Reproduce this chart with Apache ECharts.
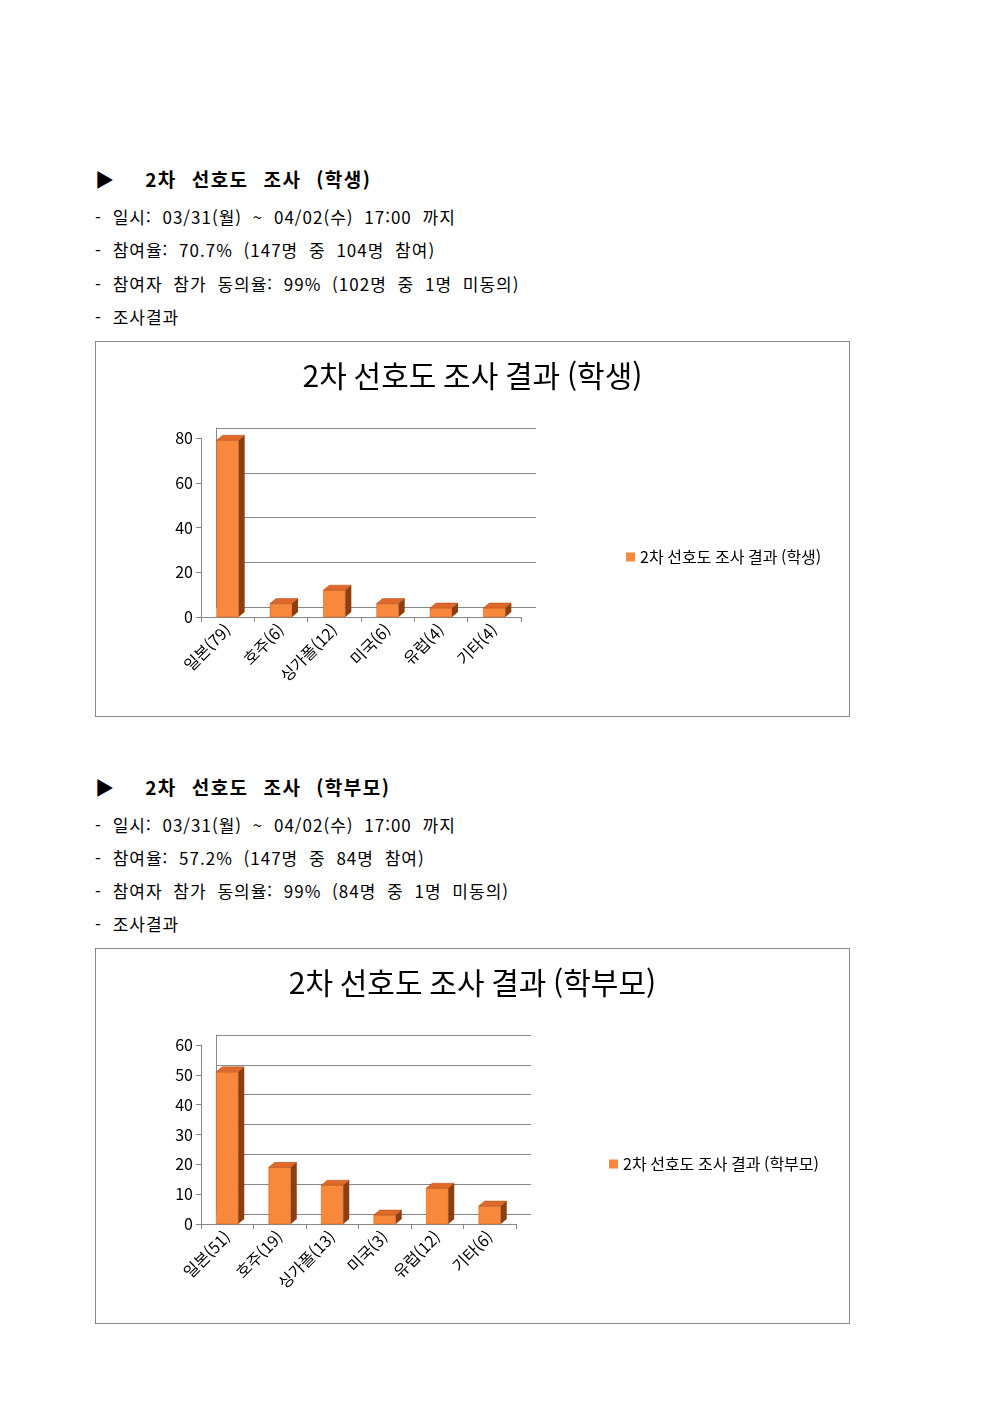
<!DOCTYPE html>
<html lang="ko">
<head>
<meta charset="UTF-8" />
<title>2차 선호도 조사</title>
<style>
  html, body { margin: 0; background: #fff; }
  body { width: 992px; height: 1403px; position: relative; font-family: "Noto Sans CJK KR", sans-serif; color: #000; }
  .line { position: absolute; left: 95px; font-size: 17px; line-height: 20px; white-space: pre; letter-spacing: 1px; word-spacing: 5px; }
  .head { font-weight: bold; font-size: 19px; letter-spacing: 1.5px; word-spacing: 8px; }
  .box { position: absolute; left: 95px; width: 755px; height: 376px; border: 1px solid #888; box-sizing: border-box; }
</style>
</head>
<body>
<div class="line head" style="top:169px">▶  2차 선호도 조사 (학생)</div>
<div class="line" style="top:207px">- 일시: 03/31(월) ~ 04/02(수) 17:00 까지</div>
<div class="line" style="top:240px">- 참여율: 70.7% (147명 중 104명 참여)</div>
<div class="line" style="top:274px">- 참여자 참가 동의율: 99% (102명 중 1명 미동의)</div>
<div class="line" style="top:307px">- 조사결과</div>
<div class="box" id="c1" style="top:341px"></div>

<div class="line head" style="top:777px">▶  2차 선호도 조사 (학부모)</div>
<div class="line" style="top:815px">- 일시: 03/31(월) ~ 04/02(수) 17:00 까지</div>
<div class="line" style="top:848px">- 참여율: 57.2% (147명 중 84명 참여)</div>
<div class="line" style="top:881px">- 참여자 참가 동의율: 99% (84명 중 1명 미동의)</div>
<div class="line" style="top:914px">- 조사결과</div>
<div class="box" id="c2" style="top:948px"></div>

<script src="https://cdn.jsdelivr.net/npm/echarts@6/dist/echarts.min.js"></script>
<script>
var studentCats = ['일본(79)', '호주(6)', '싱가폴(12)', '미국(6)', '유럽(4)', '기타(4)'];
var studentVals = [79, 6, 12, 6, 4, 4];
var parentCats = ['일본(51)', '호주(19)', '싱가폴(13)', '미국(3)', '유럽(12)', '기타(6)'];
var parentVals = [51, 19, 13, 3, 12, 6];

var DX = 15, DY = -10;   // depth of the back wall
var BW = 22, BD = 6, BH = -5; // bar width, bar depth

function render3d(params, api) {
  var top = api.coord([api.value(0), api.value(1)]);
  var base = api.coord([api.value(0), 0]);
  var x0 = top[0] - BW / 2, x1 = top[0] + BW / 2;
  return {
    type: 'group',
    children: [
      { type: 'rect', shape: { x: x0, y: top[1], width: BW, height: base[1] - top[1] },
        style: { fill: '#F7883C', stroke: '#C8601E', lineWidth: 0.5 } },
      { type: 'polygon', shape: { points: [[x0, top[1]], [x1, top[1]], [x1 + BD, top[1] + BH], [x0 + BD, top[1] + BH]] },
        style: { fill: '#E0692A', stroke: '#A84A14', lineWidth: 0.5 } },
      { type: 'polygon', shape: { points: [[x1, top[1]], [x1 + BD, top[1] + BH], [x1 + BD, base[1] + BH], [x1, base[1]]] },
        style: { fill: '#8E3F12' } }
    ]
  };
}

function makeChart(id, title, cats, vals, max, interval, gridW, legendLeft) {
  var chart = echarts.init(document.getElementById(id));
  var textFont = '"Noto Sans CJK KR", sans-serif';
  chart.setOption({
    animation: false,
    title: { text: title, left: 'center', top: 14,
      textStyle: { fontFamily: textFont, fontSize: 30, fontWeight: 'normal', color: '#000' } },
    legend: { data: [title], left: legendLeft, top: 202, icon: 'rect', itemWidth: 9, itemHeight: 9, itemGap: 4,
      textStyle: { fontFamily: textFont, fontSize: 16, color: '#000' } },
    grid: [
      { left: 105, top: 96, width: gridW, height: 179 },
      { left: 105 + DX, top: 96 + DY, width: gridW, height: 179 }
    ],
    xAxis: [
      { type: 'category', data: cats, gridIndex: 0,
        axisLine: { lineStyle: { color: '#888' } }, axisTick: { show: true, lineStyle: { color: '#888' } },
        axisLabel: { rotate: 45, fontFamily: textFont, fontSize: 16, color: '#000', margin: 10 } },
      { type: 'category', data: cats, gridIndex: 1, show: true,
        axisLine: { show: false }, axisTick: { show: false }, axisLabel: { show: false } }
    ],
    yAxis: [
      { type: 'value', min: 0, max: max, interval: interval, gridIndex: 0,
        axisLine: { show: true, lineStyle: { color: '#888' } }, axisTick: { show: true, lineStyle: { color: '#888' } },
        splitLine: { show: false },
        axisLabel: { fontFamily: textFont, fontSize: 16, color: '#000', margin: 8 } },
      { type: 'value', min: 0, max: max, interval: interval, gridIndex: 1,
        axisLine: { show: true, lineStyle: { color: '#888' } }, axisTick: { show: false }, axisLabel: { show: false },
        splitLine: { show: true, lineStyle: { color: '#888' } } }
    ],
    series: [
      { name: title, type: 'custom', xAxisIndex: 0, yAxisIndex: 0, renderItem: render3d,
        itemStyle: { color: '#F7883C' },
        data: vals.map(function (v, i) { return [i, v]; }), z: 3 }
    ]
  });
}

makeChart('c1', '2차 선호도 조사 결과 (학생)', studentCats, studentVals, 80, 20, 320, 525);
makeChart('c2', '2차 선호도 조사 결과 (학부모)', parentCats, parentVals, 60, 10, 315, 508);
</script>
</body>
</html>
